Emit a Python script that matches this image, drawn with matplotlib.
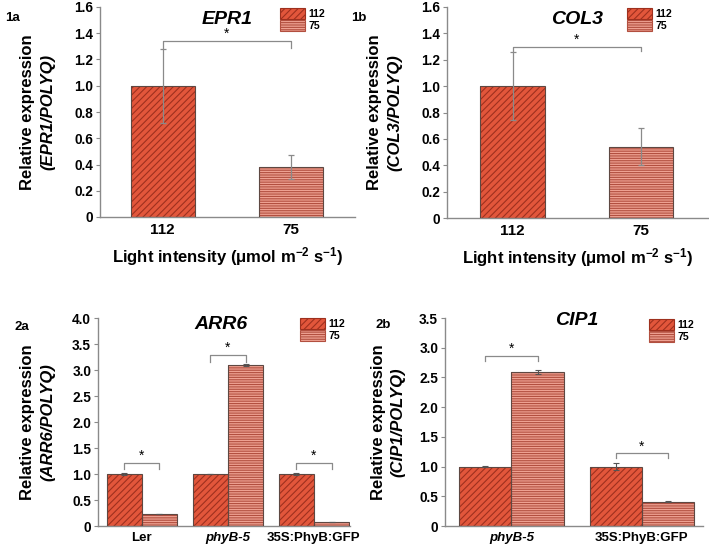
import matplotlib.pyplot as plt
from matplotlib.patches import Patch
import numpy as np

plt.rcParams.update({
    'font.family': 'Liberation Sans',
    'font.weight': 'bold',
    'axes.titleweight': 'bold',
    'axes.labelweight': 'bold',
    'mathtext.fontset': 'custom',
    'mathtext.rm': 'Liberation Sans:bold',
    'mathtext.bf': 'Liberation Sans:bold',
    'mathtext.it': 'Liberation Sans:italic:bold',
    'mathtext.default': 'bf',
    'hatch.linewidth': 0.8,
})

W, H = 709, 545   # figure size in pixels

# --- panel 1: two light intensities ---
light_levels = ['112', '75']
epr1_mean = [1.00, 0.38]
epr1_err = [0.28, 0.09]
col3_mean = [1.00, 0.54]
col3_err = [0.26, 0.14]

# --- panel 2: genotypes at 112 and 75 ---
arr6_genotypes = ['Ler', 'phyB-5', '35S:PhyB:GFP']
arr6_112 = [1.00, 1.00, 1.00]
arr6_112_err = [0.02, 0.005, 0.02]
arr6_75 = [0.23, 3.09, 0.08]
arr6_75_err = [0.005, 0.02, 0.005]

cip1_genotypes = ['phyB-5', '35S:PhyB:GFP']
cip1_112 = [1.00, 1.00]
cip1_112_err = [0.005, 0.06]
cip1_75 = [2.59, 0.41]
cip1_75_err = [0.03, 0.01]

# significance brackets: (top, leg end)
epr1_sig = [(1.34, 1.29)]
col3_sig = [(1.30, 1.27)]
arr6_sig = [(1.22, 1.10), (3.29, 3.16), (1.22, 1.10)]
cip1_sig = [(2.86, 2.78), (1.22, 1.14)]

face = {'112': '#e2563b', '75': '#eea192'}
hatchcol = {'112': '#9e301e', '75': '#b24f3f'}
hatch = {'112': '/////', '75': '-------'}
outline = '#5e4842'
gray = '#8a8a8a'


def make_ax(left, top, right, bottom):
    return fig.add_axes([left / W, 1 - bottom / H, (right - left) / W, (bottom - top) / H])


def draw_bar(ax, x, h, w, key):
    ax.bar(x, h, w, color=face[key], edgecolor=hatchcol[key], hatch=hatch[key], lw=0, zorder=2)
    ax.bar(x, h, w, fill=False, edgecolor=outline, lw=0.8, zorder=3)


def style(ax, ylim, yticks):
    ax.set_ylim(*ylim)
    ax.set_yticks(yticks)
    ax.set_yticklabels(['0' if t == 0 else f'{t:.1f}' for t in yticks], fontweight='bold',
                       fontsize=9.8)
    for s in ['top', 'right']:
        ax.spines[s].set_visible(False)
    for s in ['left', 'bottom']:
        ax.spines[s].set_color(gray)
        ax.spines[s].set_linewidth(1)
    ax.tick_params(axis='y', length=3, color=gray, pad=2)
    ax.tick_params(axis='x', length=0, pad=4)


def bracket(ax, x1, x2, top, leg):
    ax.plot([x1, x1, x2, x2], [leg, top, top, leg], color=gray, lw=0.9, zorder=4)
    ax.text((x1 + x2) / 2, top, '*', ha='center', va='bottom', fontsize=10, fontweight='normal')


def legend(ax, x, y):
    handles = [Patch(facecolor=face[k], edgecolor=hatchcol[k], hatch=hatch[k], lw=0.8)
               for k in light_levels]
    ax.legend(handles, light_levels, loc='upper left', bbox_to_anchor=(x, y), frameon=False,
              prop={'size': 7.6, 'weight': 'bold'}, handlelength=2.4, handleheight=1.2,
              labelspacing=0.1, handletextpad=0.3, borderpad=0, borderaxespad=0)


def ylabel(ax, gene, x1, x2):
    ax.text(x1, 0.5, 'Relative expression', transform=ax.transAxes, rotation=90,
            ha='center', va='center', fontsize=12, fontweight='bold')
    ax.text(x2, 0.5, f'({gene}/POLYQ)', transform=ax.transAxes, rotation=90,
            ha='center', va='center', fontsize=12, fontstyle='italic', fontweight='bold')


fig = plt.figure(figsize=(W / 100, H / 100), dpi=100)

# ---- 1a / 1b ----
for rect, xlim, means, errs, gene, sig, lab, lx in [
        ((100, 7, 355, 217), (-0.49, 1.5), epr1_mean, epr1_err, 'EPR1', epr1_sig, '1a', 0.705),
        ((447, 7, 708, 218), (-0.51, 1.52), col3_mean, col3_err, 'COL3', col3_sig, '1b', 0.69)]:
    ax = make_ax(*rect)
    x = np.arange(len(light_levels))
    for xi, m, k in zip(x, means, light_levels):
        draw_bar(ax, xi, m, 0.5, k)
    ax.errorbar(x, means, yerr=errs, fmt='none', ecolor=gray, elinewidth=0.9, capsize=2.5,
                capthick=0.9, zorder=4)
    for top, leg in sig:
        bracket(ax, 0, 1, top, leg)
    ax.set_xlim(*xlim)
    style(ax, (0, 1.6), np.arange(0, 1.61, 0.2))
    ax.set_xticks(x)
    ax.set_xticklabels(light_levels, fontsize=11, fontweight='bold')
    ax.set_xlabel(r'Light intensity ($\mathbf{\mu}$mol m$^{\mathbf{-2}}$ s$^{\mathbf{-1}}$)',
                  fontsize=12, fontweight='bold', labelpad=6)
    ax.set_title(gene, fontsize=14, fontstyle='italic', fontweight='bold', x=0.5, y=0.9,
                 va='center')
    legend(ax, lx, 0.995)
    w = rect[2] - rect[0]
    ylabel(ax, gene, (28 - 100) / w, (48 - 100) / w)
    fig.text((rect[0] - 88) / W, 1 - 18 / H, lab, fontsize=9.5, fontweight='bold',
             ha='center', va='center')

# ---- 2a ----
ax = make_ax(98, 318, 350, 526)
x = np.arange(len(arr6_genotypes))
bw = 0.41
for xi, m in zip(x, arr6_112):
    draw_bar(ax, xi - bw / 2, m, bw, '112')
for xi, m in zip(x, arr6_75):
    draw_bar(ax, xi + bw / 2, m, bw, '75')
ax.errorbar(x - bw / 2, arr6_112, yerr=arr6_112_err, fmt='none', ecolor='#555555', elinewidth=0.8,
            capsize=2, capthick=0.8, zorder=4)
ax.errorbar(x + bw / 2, arr6_75, yerr=arr6_75_err, fmt='none', ecolor='#555555', elinewidth=0.8,
            capsize=2, capthick=0.8, zorder=4)
for xi, (top, leg) in zip(x, arr6_sig):
    bracket(ax, xi - bw / 2, xi + bw / 2, top, leg)
ax.set_xlim(-0.51, 2.42)
style(ax, (0, 4.0), np.arange(0, 4.01, 0.5))
ax.set_xticks(x)
ax.set_xticklabels(arr6_genotypes, fontsize=9.5, fontweight='bold')
ax.get_xticklabels()[1].set_fontstyle('italic')
ax.set_title('ARR6', fontsize=14, fontstyle='italic', fontweight='bold', x=0.49, y=0.93,
             va='center')
legend(ax, 0.80, 1.0)
ylabel(ax, 'ARR6', (28 - 98) / 252, (48 - 98) / 252)
fig.text(22 / W, 1 - 327 / H, '2a', fontsize=9.5, fontweight='bold', ha='center', va='center')

# ---- 2b ----
ax = make_ax(445, 318, 703, 526)
x = np.arange(len(cip1_genotypes))
bw = 0.40
for xi, m in zip(x, cip1_112):
    draw_bar(ax, xi - bw / 2, m, bw, '112')
for xi, m in zip(x, cip1_75):
    draw_bar(ax, xi + bw / 2, m, bw, '75')
ax.errorbar(x - bw / 2, cip1_112, yerr=cip1_112_err, fmt='none', ecolor='#555555', elinewidth=0.8,
            capsize=2, capthick=0.8, zorder=4)
ax.errorbar(x + bw / 2, cip1_75, yerr=cip1_75_err, fmt='none', ecolor='#555555', elinewidth=0.8,
            capsize=2, capthick=0.8, zorder=4)
for xi, (top, leg) in zip(x, cip1_sig):
    bracket(ax, xi - bw / 2, xi + bw / 2, top, leg)
ax.set_xlim(-0.51, 1.47)
style(ax, (0, 3.5), np.arange(0, 3.51, 0.5))
ax.set_xticks(x)
ax.set_xticklabels(cip1_genotypes, fontsize=9.5, fontweight='bold')
ax.get_xticklabels()[0].set_fontstyle('italic')
ax.set_title('CIP1', fontsize=14, fontstyle='italic', fontweight='bold', x=0.51, y=0.95,
             va='center')
legend(ax, 0.79, 0.995)
ylabel(ax, 'CIP1', (378 - 445) / 258, (398 - 445) / 258)
fig.text(383 / W, 1 - 325 / H, '2b', fontsize=9.5, fontweight='bold', ha='center', va='center')

fig.savefig('out.png', dpi=100)
